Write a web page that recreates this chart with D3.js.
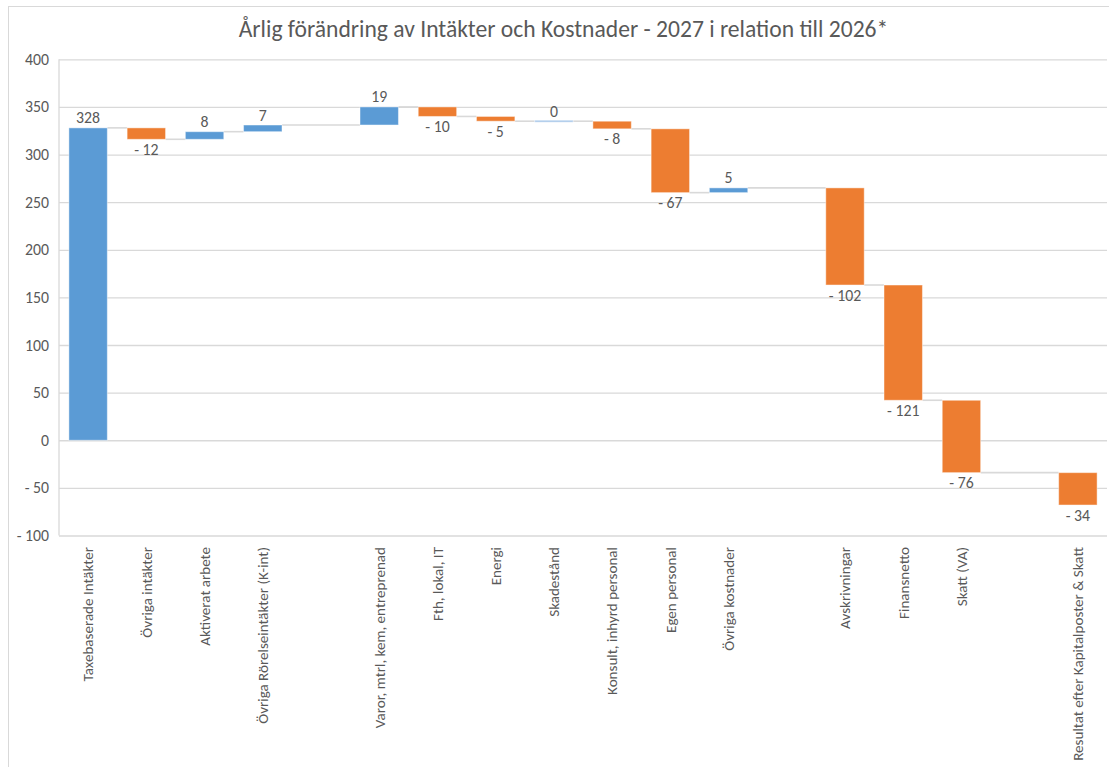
<!DOCTYPE html>
<html>
<head>
<meta charset="utf-8">
<script src="https://cdn.jsdelivr.net/npm/d3@7/dist/d3.min.js"></script>
<style>
	html, body { margin: 0; padding: 0; background: #ffffff; overflow: hidden; }
	svg { display: block; }
</style>
</head>
<body>
<div id="chart"></div>
<script>
////////// Data //////////
// empty category + null change = spacer slot between groups
const categories = [
	'Taxebaserade Intäkter', 'Övriga intäkter', 'Aktiverat arbete', 'Övriga Rörelseintäkter (K-int)', '',
	'Varor, mtrl, kem, entreprenad', 'Fth, lokal, IT', 'Energi', 'Skadestånd', 'Konsult, inhyrd personal',
	'Egen personal', 'Övriga kostnader', '',
	'Avskrivningar', 'Finansnetto', 'Skatt (VA)', '',
	'Resultat efter Kapitalposter & Skatt'
];
const changes = [328, -12, 8, 7, null, 19, -10, -5, 0, -8, -67, 5, null, -102, -121, -76, null, -34];
const yTickValues = [-100, -50, 0, 50, 100, 150, 200, 250, 300, 350, 400];
const chartTitle = 'Årlig förändring av Intäkter och Kostnader - 2027 i relation till 2026*';

////////// Hard Coded Defs //////////
const width = 1109;
const height = 767;
const plot = { left: 59, right: 1107, top: 59.3, bottom: 535.5 };
const fontFamily = 'Calibri, Carlito, Lato, "Open Sans", sans-serif';
const textColor = '#595959';
const gridColor = '#d9d9d9';
const upColor = '#5b9bd5';
const downColor = '#ed7d31';
const zeroColor = '#a9c8ea';

const fmt = v => v < 0 ? '- ' + Math.abs(v) : String(v);

////////// Setup //////////
const svg = d3.select('#chart').append('svg')
	.attr('width', width)
	.attr('height', height)
	.style('background-color', '#ffffff');

const fitSize = (str, target) => {
	const t = svg.append('text')
		.style('font-family', fontFamily)
		.style('font-size', '100px')
		.text(str);
	const w = t.node().getComputedTextLength();
	t.remove();
	return 100 * target / w;
};
const titleSize = fitSize(chartTitle, 650);
const tickSize = fitSize('400', 24);
const catSize = fitSize('Resultat efter Kapitalposter & Skatt', 214);

// running totals for the waterfall
let running = 0;
const steps = categories.map((name, i) => {
	const value = changes[i];
	if (value === null) return { key: String(i), name, gap: true };
	const from = running;
	running += value;
	return { key: String(i), name, value, from, to: running };
});
const bars = steps.filter(d => !d.gap);

const x = d3.scaleBand()
	.domain(steps.map(d => d.key))
	.range([plot.left, plot.right])
	.paddingInner(0.34)
	.paddingOuter(0.17);

const y = d3.scaleLinear()
	.domain([-100, 400])
	.range([plot.bottom, plot.top]);

////////// Draw //////////
// outer chart border
svg.append('rect')
	.attr('x', 8.5)
	.attr('y', 6.5)
	.attr('width', 1200)
	.attr('height', 900)
	.attr('fill', 'none')
	.attr('stroke', gridColor)
	.attr('stroke-width', 1);

svg.append('text')
	.attr('x', 563.5)
	.attr('y', 37)
	.attr('text-anchor', 'middle')
	.style('font-family', fontFamily)
	.style('font-size', titleSize + 'px')
	.attr('fill', textColor)
	.text(chartTitle);

// gridlines + y labels
const yAxis = svg.append('g')
	.attr('transform', `translate(${plot.left}, 0)`)
	.call(d3.axisLeft(y)
		.tickValues(yTickValues)
		.tickSize(-(plot.right - plot.left))
		.tickPadding(10)
		.tickFormat(fmt));
yAxis.select('.domain').remove();
yAxis.selectAll('.tick line')
	.attr('stroke', gridColor)
	.attr('stroke-width', 1.3);
yAxis.selectAll('.tick text')
	.attr('fill', textColor)
	.style('font-family', fontFamily)
	.style('font-size', tickSize + 'px');

// left axis line
svg.append('line')
	.attr('x1', plot.left).attr('x2', plot.left)
	.attr('y1', plot.top).attr('y2', plot.bottom)
	.attr('stroke', gridColor)
	.attr('stroke-width', 1.3);

// connectors between consecutive bars (also across spacer slots)
const connectors = d3.pairs(bars);
svg.append('g').selectAll('line')
	.data(connectors)
	.enter().append('line')
		.attr('x1', d => x(d[0].key) + x.bandwidth())
		.attr('x2', d => x(d[1].key))
		.attr('y1', d => y(d[0].to))
		.attr('y2', d => y(d[0].to))
		.attr('stroke', gridColor)
		.attr('stroke-width', 1.6);

// bars
svg.append('g').selectAll('rect')
	.data(bars)
	.enter().append('rect')
		.attr('x', d => x(d.key))
		.attr('width', x.bandwidth())
		.attr('y', d => d.value === 0 ? y(d.to) - 1 : y(Math.max(d.from, d.to)))
		.attr('height', d => d.value === 0 ? 2 : Math.abs(y(d.from) - y(d.to)))
		.attr('fill', d => d.value === 0 ? zeroColor : d.value > 0 ? upColor : downColor)
		.attr('stroke', 'rgba(255,255,255,0.45)')
		.attr('stroke-width', 1);

// value labels
svg.append('g').selectAll('text')
	.data(bars)
	.enter().append('text')
		.attr('x', d => x(d.key) + x.bandwidth() / 2)
		.attr('y', d => d.value >= 0 ? y(d.to) - 4.5 : y(d.to) + 15.5)
		.attr('text-anchor', 'middle')
		.attr('fill', textColor)
		.style('font-family', fontFamily)
		.style('font-size', tickSize + 'px')
		.text(d => fmt(d.value));

// rotated category labels
svg.append('g').selectAll('text')
	.data(steps.filter(d => !d.gap))
	.enter().append('text')
		.attr('transform', d => `translate(${x(d.key) + x.bandwidth() / 2}, 547) rotate(-90)`)
		.attr('dy', '0.35em')
		.attr('text-anchor', 'end')
		.attr('fill', textColor)
		.style('font-family', fontFamily)
		.style('font-size', catSize + 'px')
		.text(d => d.name);
</script>
</body>
</html>
